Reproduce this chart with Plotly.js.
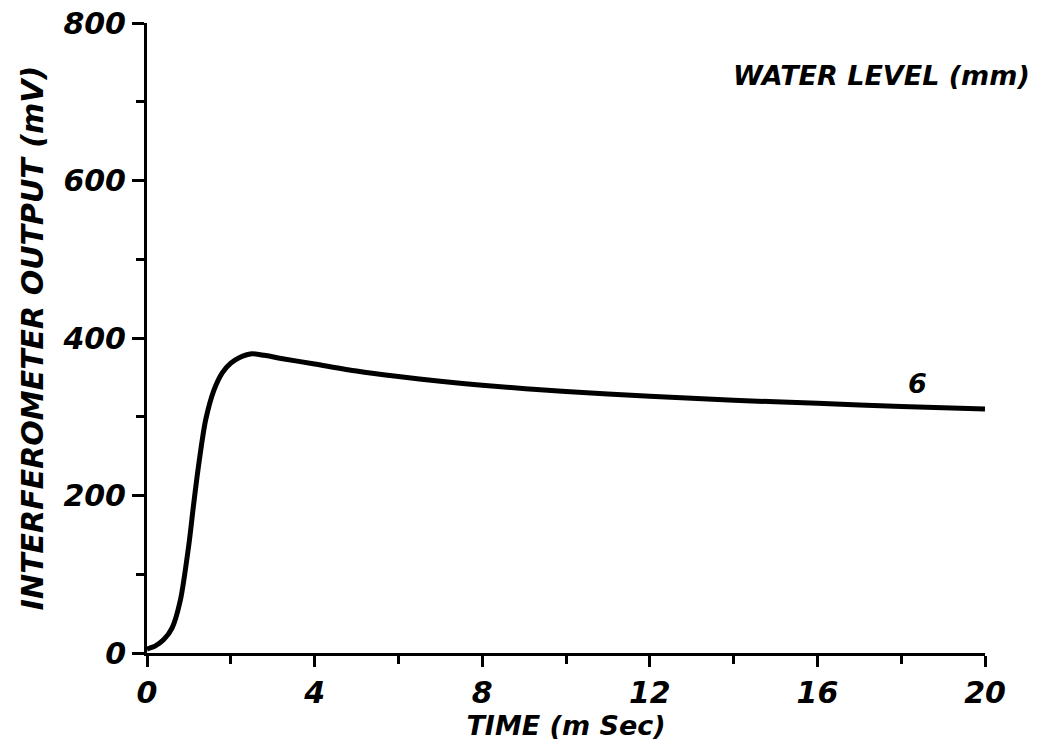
<!DOCTYPE html>
<html>
<head>
<meta charset="utf-8">
<script src="https://cdn.plot.ly/plotly-3.0.1.min.js"></script>
<style>html,body{margin:0;padding:0;background:#fff;}#chart{width:1050px;height:749px;}</style>
</head>
<body>
<div id="chart"></div>
<script>
const timeMs = [0, 0.2, 0.4, 0.6, 0.8, 1.0, 1.1, 1.2, 1.3, 1.4, 1.6, 1.8, 2.0, 2.2, 2.5, 2.8, 3.2, 4, 5, 6, 7, 8, 10, 12, 14, 16, 18, 20];
const outputMv = [5, 9, 17, 32, 68, 138, 183, 226, 264, 296, 334, 356, 368, 375, 380, 378, 374, 367, 358, 351, 345, 340, 332, 326, 321, 317, 313, 310];
const xTickVals = [0, 4, 8, 12, 16, 20];
const yTickVals = [0, 200, 400, 600, 800];
const seriesLabel = "6";
const legendTitle = "WATER LEVEL (mm)";

const fontFam = "DejaVu Sans, sans-serif";
const tickFont = {family: fontFam, size: 30, color: "#000", style: "italic", weight: "bold"};

const trace = {
  x: timeMs, y: outputMv, type: "scatter", mode: "lines",
  line: {color: "#000", width: 5, shape: "spline", smoothing: 0.7},
  hoverinfo: "skip", showlegend: false
};

const layout = {
  width: 1050, height: 749,
  margin: {l: 147, r: 65, t: 23, b: 96},
  paper_bgcolor: "#fff", plot_bgcolor: "#fff",
  xaxis: {
    range: [0, 20], tickvals: xTickVals, ticktext: xTickVals.map(String),
    showgrid: false, zeroline: false, showline: true, linecolor: "#000", linewidth: 3,
    ticks: "outside", ticklen: 11, tickwidth: 3, tickcolor: "#000",
    minor: {dtick: 2, ticks: "outside", ticklen: 8, tickwidth: 3, tickcolor: "#000", showgrid: false},
    tickfont: tickFont,
    title: {text: "TIME (m Sec)", font: {family: fontFam, size: 27, color: "#000", style: "italic", weight: "bold"}, standoff: 8}
  },
  yaxis: {
    range: [0, 800], tickvals: yTickVals, ticktext: yTickVals.map(String),
    showgrid: false, zeroline: false, showline: true, linecolor: "#000", linewidth: 3,
    ticks: "outside", ticklen: 12, tickwidth: 3, tickcolor: "#000",
    minor: {dtick: 100, ticks: "outside", ticklen: 8, tickwidth: 3, tickcolor: "#000", showgrid: false},
    tickfont: tickFont,
    title: {text: "INTERFEROMETER OUTPUT (mV)", font: {family: fontFam, size: 30, color: "#000", style: "italic", weight: "bold"}, standoff: 10}
  },
  annotations: [
    {x: 18.4, y: 312, xref: "x", yref: "y", text: seriesLabel, showarrow: false, yanchor: "bottom", yshift: 6,
     font: {family: fontFam, size: 27, color: "#000", style: "italic", weight: "bold"}},
    {text: legendTitle, showarrow: false, xref: "paper", yref: "paper",
     x: (1032 - 147) / (1050 - 147 - 65), xanchor: "right",
     y: (653 - 75) / (653 - 23), yanchor: "middle",
     font: {family: fontFam, size: 27, color: "#000", style: "italic", weight: "bold"}}
  ]
};

Plotly.newPlot("chart", [trace], layout, {displayModeBar: false, staticPlot: true});
</script>
</body>
</html>
